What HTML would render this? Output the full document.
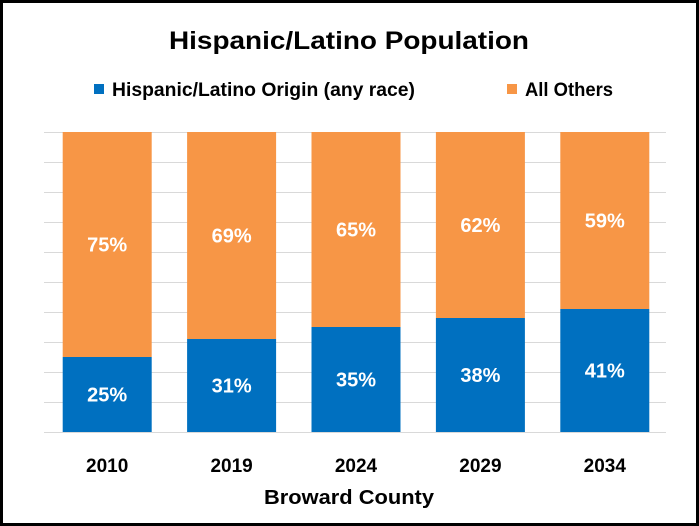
<!DOCTYPE html>
<html><head><meta charset="utf-8"><style>
html,body{margin:0;padding:0;background:#fff}
svg{display:block}
text{font-family:"Liberation Sans",sans-serif;font-weight:bold}
</style></head><body>
<svg id="chart" width="699" height="526" xmlns="http://www.w3.org/2000/svg">
<rect x="1.5" y="1.5" width="696" height="523" fill="#fff" stroke="#000" stroke-width="3"/>
<text x="349" y="49" text-anchor="middle" font-size="25" textLength="360" lengthAdjust="spacingAndGlyphs">Hispanic/Latino Population</text>
<g>
<rect x="94" y="84" width="10" height="10" fill="#0070C0"/>
<text x="112" y="96" font-size="19" textLength="303" lengthAdjust="spacingAndGlyphs">Hispanic/Latino Origin (any race)</text>
<rect x="507" y="84" width="10" height="10" fill="#F79646"/>
<text x="525" y="96" font-size="19" textLength="88" lengthAdjust="spacingAndGlyphs">All Others</text>
</g>
<g id="grid"></g>
<g id="bars"></g>
<g id="labels"></g>
<text x="349" y="504" text-anchor="middle" font-size="20" textLength="170" lengthAdjust="spacingAndGlyphs">Broward County</text>
</svg>
<script>
const categories = ["2010","2019","2024","2029","2034"];
const hispanic = [25,31,35,38,41];
const others = [75,69,65,62,59];
const gridTicks = [0,10,20,30,40,50,60,70,80,90,100];

(function(){
const NS="http://www.w3.org/2000/svg";
const plotLeft=44, plotRight=666, plotTop=132, plotBottom=432;
const band=(plotRight-plotLeft)/categories.length, barW=89;
const yScale=v=>plotBottom-(v/100)*(plotBottom-plotTop);
const xc=i=>plotLeft+band*i+band/2+1;
function mk(tag,attrs,parent){const e=document.createElementNS(NS,tag);for(const k in attrs)e.setAttribute(k,attrs[k]);parent.appendChild(e);return e;}
const grid=document.getElementById('grid'),bars=document.getElementById('bars'),labels=document.getElementById('labels');
gridTicks.forEach(t=>{
  const l=mk('line',{x1:plotLeft,x2:plotRight,y1:yScale(t)+0.5,y2:yScale(t)+0.5,stroke:'#D9D9D9','stroke-width':1},grid);
  
  
});
categories.forEach((c,i)=>{
  const x0=xc(i)-barW/2;
  const b1=mk('rect',{x:x0,y:yScale(hispanic[i]),width:barW,height:yScale(0)-yScale(hispanic[i]),fill:'#0070C0'},bars);
  
  
  const b2=mk('rect',{x:x0,y:yScale(hispanic[i]+others[i]),width:barW,height:yScale(hispanic[i])-yScale(hispanic[i]+others[i]),fill:'#F79646'},bars);
  
  
  const t1=mk('text',{x:xc(i),y:(yScale(0)+yScale(hispanic[i]))/2+7,'text-anchor':'middle','font-size':20,fill:'#fff'},labels);
  t1.textContent=hispanic[i]+'%';
  
  
  const t2=mk('text',{x:xc(i),y:(yScale(hispanic[i])+yScale(hispanic[i]+others[i]))/2+7,'text-anchor':'middle','font-size':20,fill:'#fff'},labels);
  t2.textContent=others[i]+'%';
  
  
  const t3=mk('text',{x:xc(i),y:472,'text-anchor':'middle','font-size':19,fill:'#000'},labels);
  t3.textContent=c;
  
  
});
})();
</script>
</body></html>
